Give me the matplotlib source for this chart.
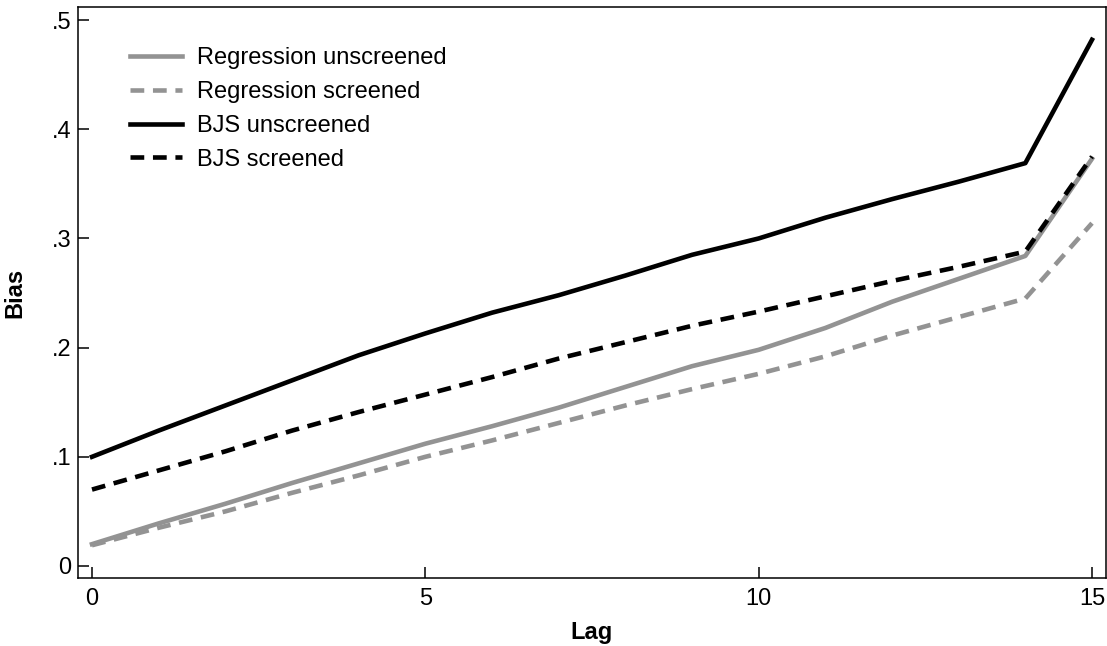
import matplotlib
matplotlib.use('Agg')
import matplotlib.pyplot as plt

plt.rcParams['font.family'] = ['Liberation Sans', 'DejaVu Sans']

# Bias by lag for each estimator
lags = list(range(16))
reg_unscreened = [0.020, 0.039, 0.057, 0.076, 0.094, 0.112, 0.128, 0.145,
                  0.164, 0.183, 0.198, 0.218, 0.242, 0.263, 0.284, 0.373]
reg_screened = [0.019, 0.035, 0.050, 0.067, 0.083, 0.100, 0.115, 0.131,
                0.147, 0.162, 0.176, 0.192, 0.211, 0.228, 0.245, 0.314]
bjs_unscreened = [0.100, 0.124, 0.147, 0.170, 0.193, 0.213, 0.232, 0.248,
                  0.266, 0.285, 0.300, 0.319, 0.336, 0.352, 0.369, 0.482]
bjs_screened = [0.070, 0.0875, 0.105, 0.124, 0.141, 0.157, 0.173, 0.190,
                0.205, 0.220, 0.233, 0.247, 0.261, 0.274, 0.288, 0.375]

x_ticks = [0, 5, 10, 15]
y_ticks = [0, 0.1, 0.2, 0.3, 0.4, 0.5]
y_tick_labels = ['0', '.1', '.2', '.3', '.4', '.5']

gray = '#939393'
fs = 17
lw = 3.3

fig = plt.figure(figsize=(11.07, 6.46), dpi=100)
ax = fig.add_axes([78 / 1107, 68 / 646, 1028 / 1107, 571 / 646])

ax.plot(lags, reg_unscreened, color=gray, lw=lw, label='Regression unscreened')
ax.plot(lags, reg_screened, color=gray, lw=lw, dashes=(3.0, 1.9), label='Regression screened')
ax.plot(lags, bjs_unscreened, color='black', lw=lw, label='BJS unscreened')
ax.plot(lags, bjs_screened, color='black', lw=lw, dashes=(3.0, 1.9), label='BJS screened')

ax.set_xlim(-0.21, 15.21)
ax.set_ylim(-0.011, 0.512)
ax.set_xticks(x_ticks)
ax.set_yticks(y_ticks)
ax.set_yticklabels(y_tick_labels)
ax.tick_params(direction='in', length=8, width=1.1, labelsize=fs)
ax.tick_params(axis='x', pad=7)
ax.tick_params(axis='y', pad=5)
for spine in ax.spines.values():
    spine.set_linewidth(1.1)

ax.set_xlabel('Lag', fontsize=fs, fontweight='bold', labelpad=8)
ax.set_ylabel('Bias', fontsize=fs, fontweight='bold', labelpad=18)

ax.legend(loc='upper left', bbox_to_anchor=(0.041, 0.946), frameon=False, fontsize=fs,
          handlelength=2.2, handletextpad=0.65, labelspacing=0.5, borderaxespad=0)

fig.savefig('out.png', dpi=100)
